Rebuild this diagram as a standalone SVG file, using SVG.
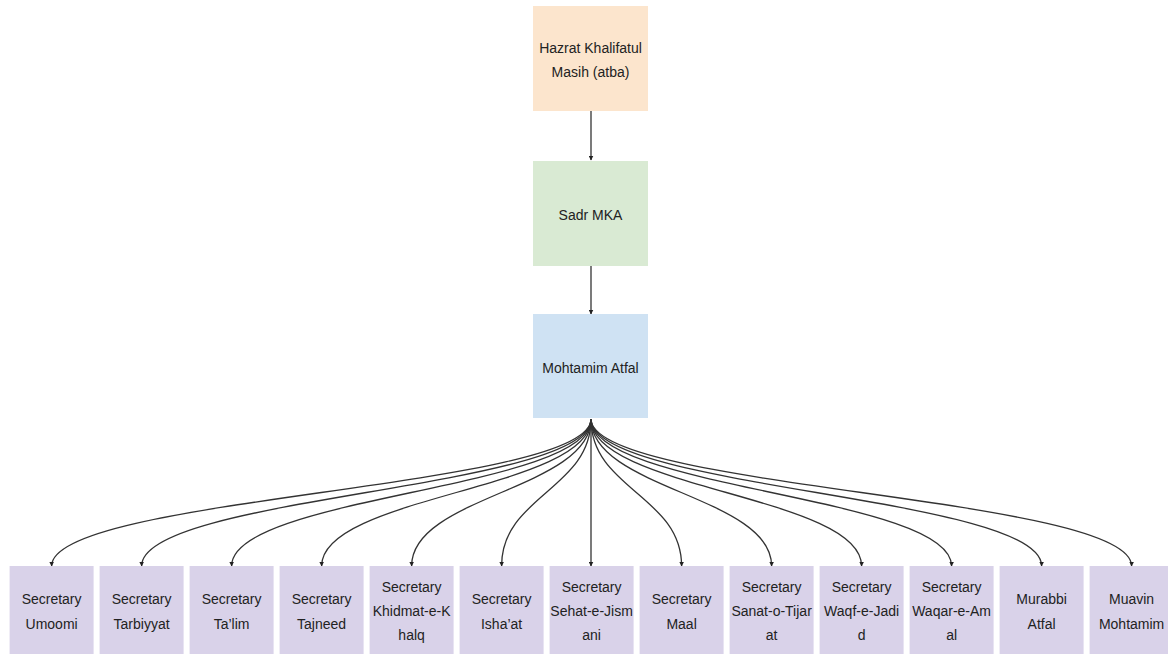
<svg xmlns="http://www.w3.org/2000/svg" width="1168" height="654" viewBox="0 0 1168 654">
<style>
.t{font-family:"Liberation Sans",Arial,sans-serif;font-size:14px;fill:#222;text-anchor:middle}
.c{fill:none;stroke:#333;stroke-width:1.3;marker-end:url(#ah)}
.p{fill:#D9D2E9}
</style>
<defs>
<marker id="ah" viewBox="0 0 10 10" refX="9" refY="5" markerWidth="5" markerHeight="5" orient="auto" markerUnits="userSpaceOnUse"><path d="M0,0 L10,5 L0,10 z" fill="#222"/></marker>
</defs>
<rect width="1168" height="654" fill="#fff"/>
<g id="connectors">
<path class="c" d="M591,111 L591,160"/>
<path class="c" d="M591,266 L591,314"/>
<path class="c" d="M591,419 C591,489 51.6,496 51.6,566"/>
<path class="c" d="M591,419 C591,489 141.6,496 141.6,566"/>
<path class="c" d="M591,419 C591,489 231.6,496 231.6,566"/>
<path class="c" d="M591,419 C591,489 321.6,496 321.6,566"/>
<path class="c" d="M591,419 C591,489 411.6,496 411.6,566"/>
<path class="c" d="M591,419 C591,489 501.6,496 501.6,566"/>
<path class="c" d="M591,419 L591,566"/>
<path class="c" d="M591,419 C591,489 681.6,496 681.6,566"/>
<path class="c" d="M591,419 C591,489 771.6,496 771.6,566"/>
<path class="c" d="M591,419 C591,489 861.6,496 861.6,566"/>
<path class="c" d="M591,419 C591,489 951.6,496 951.6,566"/>
<path class="c" d="M591,419 C591,489 1041.6,496 1041.6,566"/>
<path class="c" d="M591,419 C591,489 1131.6,496 1131.6,566"/>
</g>
<g id="khalifa"><rect x="533" y="6" width="115" height="105" fill="#FCE5CD"/><text class="t" x="590.5" y="53">Hazrat Khalifatul</text><text class="t" x="590.5" y="77">Masih (atba)</text></g>
<g id="sadr"><rect x="533" y="161" width="115" height="105" fill="#D9EAD3"/><text class="t" x="590.5" y="220">Sadr MKA</text></g>
<g id="mohtamim"><rect x="533" y="314" width="115" height="104" fill="#CFE2F3"/><text class="t" x="590.5" y="373">Mohtamim Atfal</text></g>
<g id="umoomi"><rect class="p" x="9.6" y="566" width="84" height="88"/><text class="t" x="51.6" y="604">Secretary</text><text class="t" x="51.6" y="629">Umoomi</text></g>
<g id="tarbiyyat"><rect class="p" x="99.6" y="566" width="84" height="88"/><text class="t" x="141.6" y="604">Secretary</text><text class="t" x="141.6" y="629">Tarbiyyat</text></g>
<g id="talim"><rect class="p" x="189.6" y="566" width="84" height="88"/><text class="t" x="231.6" y="604">Secretary</text><text class="t" x="231.6" y="629">Ta’lim</text></g>
<g id="tajneed"><rect class="p" x="279.6" y="566" width="84" height="88"/><text class="t" x="321.6" y="604">Secretary</text><text class="t" x="321.6" y="629">Tajneed</text></g>
<g id="khidmat"><rect class="p" x="369.6" y="566" width="84" height="88"/><text class="t" x="411.6" y="592">Secretary</text><text class="t" x="411.6" y="616">Khidmat-e-K</text><text class="t" x="411.6" y="640">halq</text></g>
<g id="ishaat"><rect class="p" x="459.6" y="566" width="84" height="88"/><text class="t" x="501.6" y="604">Secretary</text><text class="t" x="501.6" y="629">Isha’at</text></g>
<g id="sehat"><rect class="p" x="549.6" y="566" width="84" height="88"/><text class="t" x="591.6" y="592">Secretary</text><text class="t" x="591.6" y="616">Sehat-e-Jism</text><text class="t" x="591.6" y="640">ani</text></g>
<g id="maal"><rect class="p" x="639.6" y="566" width="84" height="88"/><text class="t" x="681.6" y="604">Secretary</text><text class="t" x="681.6" y="629">Maal</text></g>
<g id="sanat"><rect class="p" x="729.6" y="566" width="84" height="88"/><text class="t" x="771.6" y="592">Secretary</text><text class="t" x="771.6" y="616">Sanat-o-Tijar</text><text class="t" x="771.6" y="640">at</text></g>
<g id="waqf"><rect class="p" x="819.6" y="566" width="84" height="88"/><text class="t" x="861.6" y="592">Secretary</text><text class="t" x="861.6" y="616">Waqf-e-Jadi</text><text class="t" x="861.6" y="640">d</text></g>
<g id="waqar"><rect class="p" x="909.6" y="566" width="84" height="88"/><text class="t" x="951.6" y="592">Secretary</text><text class="t" x="951.6" y="616">Waqar-e-Am</text><text class="t" x="951.6" y="640">al</text></g>
<g id="murabbi"><rect class="p" x="999.6" y="566" width="84" height="88"/><text class="t" x="1041.6" y="604">Murabbi</text><text class="t" x="1041.6" y="629">Atfal</text></g>
<g id="muavin"><rect class="p" x="1089.6" y="566" width="84" height="88"/><text class="t" x="1131.6" y="604">Muavin</text><text class="t" x="1131.6" y="629">Mohtamim</text></g>
</svg>
